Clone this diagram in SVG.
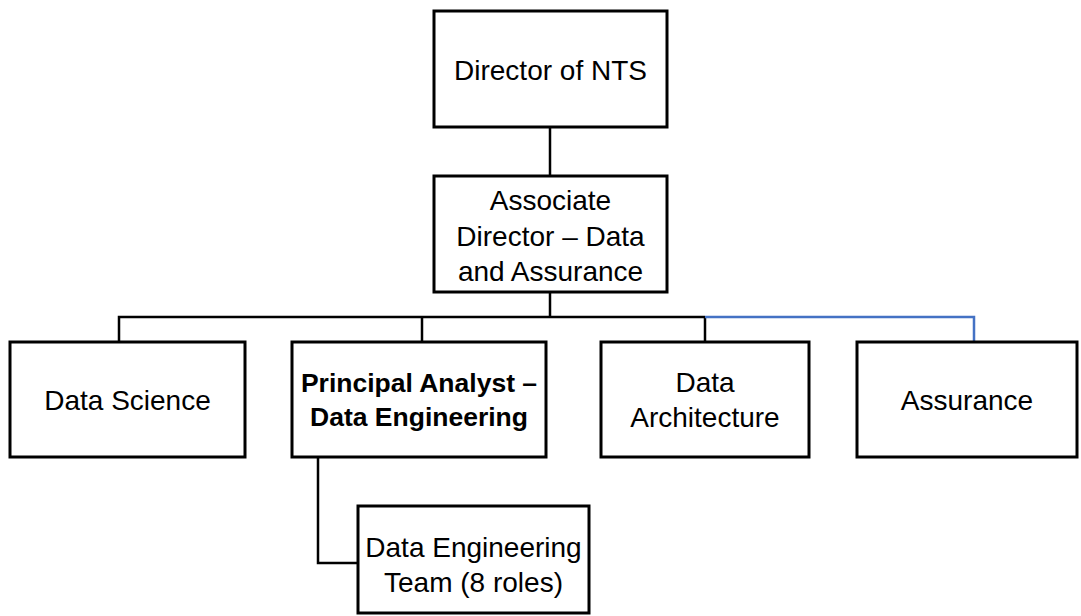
<svg xmlns="http://www.w3.org/2000/svg" width="1081" height="616" viewBox="0 0 1081 616">
<style>
.box{fill:#fff;stroke:#000;stroke-width:3}
.t{font-family:"Liberation Sans",Arial,sans-serif;font-size:28px;fill:#000;text-anchor:middle}
.b{font-weight:bold;font-size:26.5px}
.c{fill:none;stroke:#000;stroke-width:2.5}
.blue{stroke:#4472c4}
</style>
<rect width="1081" height="616" fill="#fff"/>
<g id="connectors">
<line class="c" x1="550" y1="127" x2="550" y2="176"/>
<line class="c" x1="550" y1="292" x2="550" y2="317"/>
<polyline class="c" points="119,342 119,317 705,317"/>
<line class="c" x1="422" y1="317" x2="422" y2="342"/>
<line class="c" x1="705" y1="317" x2="705" y2="342"/>
<polyline class="c blue" points="705,317 974,317 974,342"/>
<polyline class="c" points="318,457 318,563 358,563"/>
</g>
<g id="director"><rect class="box" x="434" y="11" width="233" height="116"/><text class="t" x="550.5" y="80">Director of NTS</text></g>
<g id="associate"><rect class="box" x="434" y="176" width="233" height="116"/><text class="t" x="550.5" y="210">Associate</text><text class="t" x="550.5" y="246">Director – Data</text><text class="t" x="550.5" y="281">and Assurance</text></g>
<g id="datascience"><rect class="box" x="10" y="342" width="235" height="115"/><text class="t" x="127.5" y="410">Data Science</text></g>
<g id="principal"><rect class="box" x="292" y="342" width="254" height="115"/><text class="t b" x="419" y="392">Principal Analyst –</text><text class="t b" x="419" y="426">Data Engineering</text></g>
<g id="architecture"><rect class="box" x="601" y="342" width="208" height="115"/><text class="t" x="705" y="392">Data</text><text class="t" x="705" y="427">Architecture</text></g>
<g id="assurance"><rect class="box" x="857" y="342" width="220" height="115"/><text class="t" x="967" y="410">Assurance</text></g>
<g id="team"><rect class="box" x="358" y="506" width="231" height="107"/><text class="t" x="473.5" y="557">Data Engineering</text><text class="t" x="473.5" y="592">Team (8 roles)</text></g>
</svg>
